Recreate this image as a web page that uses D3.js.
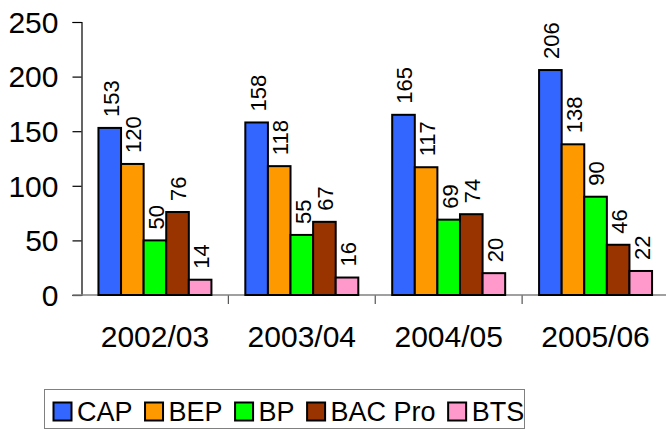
<!DOCTYPE html>
<html><head><meta charset="utf-8">
<script src="https://cdn.jsdelivr.net/npm/d3@7/dist/d3.min.js"></script>
<style>body{margin:0;background:#fff}svg{display:block;font-family:Arial,"Liberation Sans",sans-serif}</style>
</head><body><svg id="c" width="666" height="430"></svg>
<script>
const categories = ["2002/03","2003/04","2004/05","2005/06"];
const seriesNames = ["CAP","BEP","BP","BAC Pro","BTS"];
const CAP = [153,158,165,206];
const BEP = [120,118,117,138];
const BP = [50,55,69,90];
const BACPro = [76,67,74,46];
const BTS = [14,16,20,22];
const yTicks = [0,50,100,150,200,250];
const colors = ["#3366FF","#FF9900","#00FF00","#993300","#FF99CC"];
const seriesValues = [CAP,BEP,BP,BACPro,BTS];

(function(){
const svg = d3.select("#c");
const mLeft = 81.5, mRight = 669, mTop = 22, mBottom = 295;
const x = d3.scaleBand().domain(categories).range([mLeft, mRight]).paddingInner(0).paddingOuter(0);
const inner = d3.scaleBand().domain(seriesNames).range([0, x.bandwidth()]).paddingInner(0).paddingOuter(0.75);
const y = d3.scaleLinear().domain([0,250]).range([mBottom, mTop]);

// y axis
const ya = svg.append("g").attr("transform",`translate(${mLeft},0)`)
  .call(d3.axisLeft(y).tickValues(yTicks).tickSize(9).tickPadding(14));
ya.select(".domain").attr("stroke","#000").attr("stroke-width",1.2);
ya.selectAll(".tick line").attr("stroke","#000").attr("stroke-width",1.2);
ya.selectAll("text").attr("font-size",30).attr("font-family","Arial, 'Liberation Sans', sans-serif").attr("fill","#000").attr("dy","0.34em");

// x axis
const xa = svg.append("g").attr("transform",`translate(0,${mBottom})`)
  .call(d3.axisBottom(x).tickSize(0).tickPadding(0));
xa.select(".domain").remove();
xa.selectAll(".tick line").remove();
xa.selectAll("text").attr("font-size",30).attr("font-family","Arial, 'Liberation Sans', sans-serif").attr("fill","#000").attr("dy",null).attr("y",52);
const bounds = categories.map(c=>x(c)).concat([x(categories[categories.length-1])+x.bandwidth()]);
svg.append("g").selectAll("line").data(bounds.slice(1)).join("line")
  .attr("x1",d=>d).attr("x2",d=>d).attr("y1",mBottom).attr("y2",mBottom+9)
  .attr("stroke","#555").attr("stroke-width",1.2);
svg.append("line").attr("x1",mLeft-9).attr("x2",mRight).attr("y1",mBottom).attr("y2",mBottom)
  .attr("stroke","#808080").attr("stroke-width",1.5);

// bars
const groups = svg.append("g").selectAll("g").data(categories).join("g")
  .attr("transform",d=>`translate(${x(d)},0)`);
const cells = groups.selectAll("g").data((c,i)=>seriesNames.map((s,j)=>({s, j, v:seriesValues[j][i]}))).join("g");
cells.append("rect")
  .attr("x",d=>inner(d.s)).attr("width",inner.bandwidth())
  .attr("y",d=>y(d.v)).attr("height",d=>y(0)-y(d.v))
  .attr("fill",d=>colors[d.j]).attr("stroke","#000").attr("stroke-width",2);
cells.append("text")
  .attr("transform",d=>`translate(${inner(d.s)+inner.bandwidth()/2+1},${y(d.v)-11}) rotate(-90)`)
  .attr("dy","0.36em").attr("text-anchor","start")
  .attr("font-size",22).attr("fill","#000").text(d=>d.v);

// legend
const lg = svg.append("g");
lg.append("rect").attr("x",44.5).attr("y",389.5).attr("width",480).attr("height",39)
  .attr("fill","#fff").attr("stroke","#808080").attr("stroke-width",1);
let lx = 53;
seriesNames.forEach((s,j)=>{
  lg.append("rect").attr("x",lx+0.5).attr("y",402.5).attr("width",18).attr("height",18)
    .attr("fill",colors[j]).attr("stroke","#000").attr("stroke-width",2);
  const t = lg.append("text").attr("x",lx+24).attr("y",421).attr("font-size",27).attr("fill","#000").text(s);
  const w = t.node().getComputedTextLength();
  lx += 24 + w + 12;
});
})();
</script></body></html>
